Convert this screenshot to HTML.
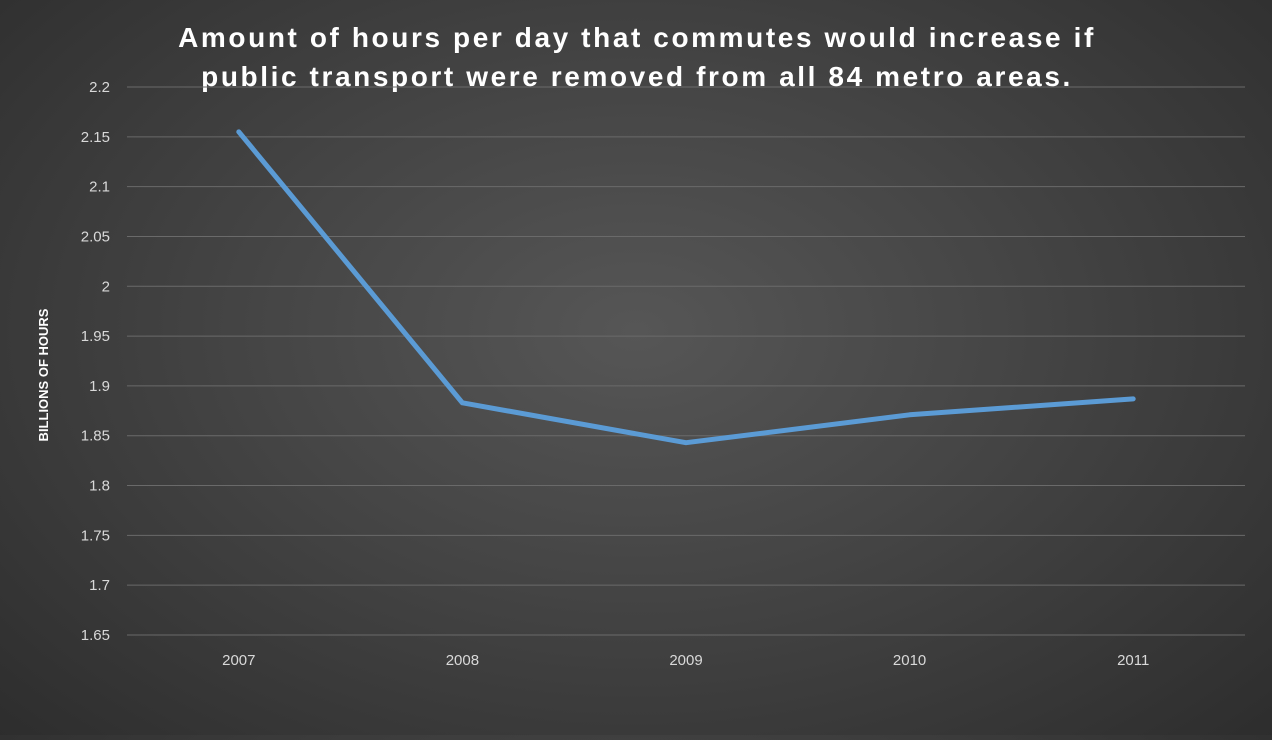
<!DOCTYPE html>
<html><head><meta charset="utf-8"><style>
html,body{margin:0;padding:0;}
body{width:1272px;height:735px;overflow:hidden;background:radial-gradient(ellipse 75% 85% at 50% 45%,#565656 0%,#454545 40%,#2a2a2a 100%);font-family:"Liberation Sans",sans-serif;}
</style></head><body>
<svg id="chart" width="1272" height="735" xmlns="http://www.w3.org/2000/svg">
<g id="title" font-family="Liberation Sans, sans-serif" font-weight="bold" font-size="28" fill="#fff" text-anchor="middle" letter-spacing="2.6">
<text x="637" y="47">Amount of hours per day that commutes would increase if</text>
<text x="637" y="86">public transport were removed from all 84 metro areas.</text>
</g>
<text transform="translate(48,375) rotate(-90)" text-anchor="middle" font-weight="bold" font-size="13" fill="#fff">BILLIONS OF HOURS</text>
<g id="grid"></g><g id="yt"></g><g id="xt"></g><g id="series"></g>
</svg>
<script>
const categories=["2007","2008","2009","2010","2011"];
const values=[2.155,1.883,1.843,1.871,1.887];
const yTicks=[1.65,1.7,1.75,1.8,1.85,1.9,1.95,2,2.05,2.1,2.15,2.2];
const NS="http://www.w3.org/2000/svg";
const L=127,R=1245,T=87,B=635,yMin=1.65,yMax=2.2;
const y=v=>B-(v-yMin)/(yMax-yMin)*(B-T);
const x=i=>L+(R-L)/categories.length*(i+0.5);
function mk(t,a,p){const e=document.createElementNS(NS,t);for(const k in a)e.setAttribute(k,a[k]);p.appendChild(e);return e;}
const g=document.getElementById('grid'),yt=document.getElementById('yt'),xt=document.getElementById('xt'),s=document.getElementById('series');
yTicks.forEach(v=>{
 const l=mk('line',{x1:L,x2:R,y1:y(v),y2:y(v),stroke:'#6a6a6a','stroke-width':1},g);
 
 
 const t=mk('text',{x:110,y:y(v)+5,'text-anchor':'end','font-size':15,fill:'#d9d9d9'},yt);
 t.textContent=String(v);
 
 
});
categories.forEach((c,i)=>{
 const t=mk('text',{x:x(i),y:665,'text-anchor':'middle','font-size':15,fill:'#d9d9d9'},xt);
 t.textContent=c;
 
 
});
const p=mk('polyline',{points:values.map((v,i)=>x(i)+','+y(v)).join(' '),fill:'none',stroke:'#5b9bd5','stroke-width':5,'stroke-linejoin':'round','stroke-linecap':'round'},s);


</script>
</body></html>
